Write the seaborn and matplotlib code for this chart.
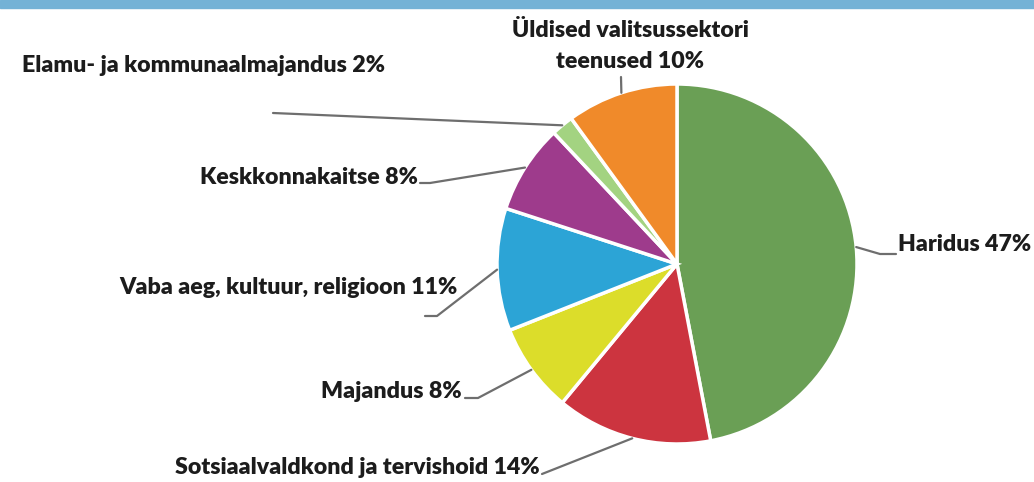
import numpy as np
import seaborn as sns
from matplotlib import pyplot as plt
from matplotlib.patches import Rectangle

sectors = [
    "Haridus",
    "Sotsiaalvaldkond ja tervishoid",
    "Majandus",
    "Vaba aeg, kultuur, religioon",
    "Keskkonnakaitse",
    "Elamu- ja kommunaalmajandus",
    "Üldised valitsussektori\nteenused",
]
shares = [47, 14, 8, 11, 8, 2, 10]
colors = ["#6a9f55", "#cc343f", "#dcdd2a", "#2ca4d6", "#9e3b8c", "#a3d381", "#f08a2a"]

# pie geometry in pixels (center x, center y from top, radius)
CX, CY, R = 677, 264, 180
W, H = 1034, 482

# label anchor (px), alignment, and the elbow point of the connector (px)
label_pos = [
    (898, 245, "left", [(880, 254), (896, 254)]),
    (540, 467, "right", [(542, 474)]),
    (462, 392, "right", [(478, 398), (465, 398)]),
    (458, 287, "right", [(437, 316), (425, 316)]),
    (418, 178, "right", [(430, 183), (420, 183)]),
    (385, 65, "right", [(273, 113)]),
    (630, 46, "center", [(621, 77)]),
]


def px(x, y):
    return (x - CX) / R, (CY - y) / R


sns.set_style("white")
plt.rcParams["font.family"] = ["Lato", "DejaVu Sans"]

fig = plt.figure(figsize=(W / 100, H / 100), dpi=100)
ax = fig.add_axes([0, 0, 1, 1])

wedges, _ = ax.pie(
    shares,
    colors=colors,
    startangle=90,
    counterclock=False,
    radius=1,
    wedgeprops=dict(edgecolor="white", linewidth=2.5),
)
ax.set_xlim(-CX / R, (W - CX) / R)
ax.set_ylim(-(H - CY) / R, CY / R)
ax.set_aspect("equal")
ax.axis("off")

for w, name, share, (tx, ty, ha, elbow) in zip(wedges, sectors, shares, label_pos):
    mid = np.deg2rad((w.theta1 + w.theta2) / 2)
    pts = [(np.cos(mid), np.sin(mid))] + [px(*p) for p in elbow]
    xs, ys = zip(*pts)
    ax.plot(xs, ys, color="#6e6e6e", lw=1.6, solid_capstyle="round")
    ax.text(*px(tx, ty), f"{name} {share}%", ha=ha, va="center",
            fontsize=16.7, fontweight="heavy", color="#1c1c1c",
            linespacing=1.6)

fig.patches.append(Rectangle((0, 1 - 8 / H), 1, 8 / H, transform=fig.transFigure,
                             color="#74b2d6", zorder=5))

fig.savefig("out.png", dpi=100)
